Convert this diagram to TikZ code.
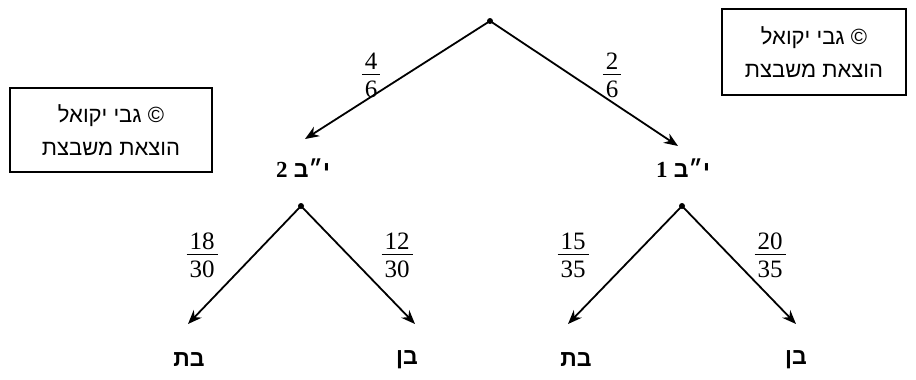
\documentclass[tikz,border=0pt]{standalone}
\usepackage{fontspec}
\usetikzlibrary{arrows.meta}
\TeXXeTstate=1
\newfontfamily\heb[Script=Hebrew]{Liberation Sans}
\newfontfamily\serifd{Liberation Serif}
\newcommand\myfr[2]{{\serifd\renewcommand\arraystretch{1}\setlength\arrayrulewidth{1.6pt}%
  \begin{tabular}{@{}c@{}}\kern3pt#1\kern3pt\\[-4pt]\hline\rule{0pt}{22pt}#2\end{tabular}}}
\tikzset{
  arr/.style={line width=1.8pt,-{Stealth[length=14pt,width=11pt,inset=4.5pt]}},
  dotpt/.style={fill=black},
  frac/.style={inner sep=0pt,font=\fontsize{25}{27}\selectfont},
  lbl/.style={font=\fontsize{23}{27}\selectfont\bfseries},
  boxtxt/.style={draw,line width=1.1pt,align=center,minimum width=184pt,minimum height=85pt,font=\fontsize{22}{33}\selectfont}
}
\begin{document}
\begin{tikzpicture}[x=1pt,y=-1pt]
\useasboundingbox (0,0) rectangle (916,380);
% split points
\coordinate (T) at (490,21);
\coordinate (L) at (301,206);
\coordinate (R) at (682,206);
\fill[dotpt] (T) circle (3);
\fill[dotpt] (L) circle (3);
\fill[dotpt] (R) circle (3);
% arrow ends
\coordinate (Le) at (305,139);
\coordinate (Re) at (678,146);
\coordinate (LLe) at (188,324);
\coordinate (LRe) at (415,324);
\coordinate (RLe) at (568,324);
\coordinate (RRe) at (796,324);
\draw[arr] (T) -- (Le);
\draw[arr] (T) -- (Re);
\draw[arr] (L) -- (LLe);
\draw[arr] (L) -- (LRe);
\draw[arr] (R) -- (RLe);
\draw[arr] (R) -- (RRe);
% fractions
\node[frac] (f1) at (371,78) {\myfr{4}{6}};
\node[frac] (f2) at (612,78) {\myfr{2}{6}};
\node[frac] (f3) at (202,258) {\myfr{18}{30}};
\node[frac] (f4) at (397,258) {\myfr{12}{30}};
\node[frac] (f5) at (573,258) {\myfr{15}{35}};
\node[frac] (f6) at (770,258) {\myfr{20}{35}};
% middle labels
\node[lbl] (m2) at (303,168) {\heb\beginR י״ב {\serifd\bfseries 2}\endR};
\node[lbl] (m1) at (683,168) {\heb\beginR י״ב {\serifd\bfseries 1}\endR};
% bottom labels
\node[lbl] (b1) at (189,360) {\heb\beginR בת\endR};
\node[lbl] (b2) at (407,360) {\heb\beginR בן\endR};
\node[lbl] (b3) at (576,360) {\heb\beginR בת\endR};
\node[lbl] (b4) at (796,360) {\heb\beginR בן\endR};
% boxes
\node[boxtxt,minimum width=184pt,minimum height=86pt] (box1) at (814,52) {\heb\beginR ©~גבי יקואל\endR\\\heb\beginR הוצאת משבצת\endR};
\node[boxtxt,minimum width=202pt,minimum height=84pt] (box2) at (111,130) {\heb\beginR ©~גבי יקואל\endR\\\heb\beginR הוצאת משבצת\endR};
\end{tikzpicture}
\end{document}
